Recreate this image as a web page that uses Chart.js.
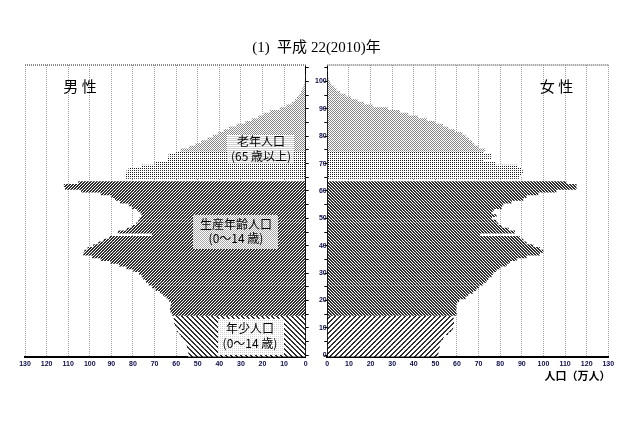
<!DOCTYPE html>
<html>
<head>
<meta charset="utf-8">
<script src="https://cdn.jsdelivr.net/npm/chart.js@4.4.1/dist/chart.umd.min.js"></script>
<style>
  html, body { margin: 0; padding: 0; background: #fff; }
  #wrap { position: relative; width: 640px; height: 426px; }
  #wrap canvas { position: absolute; left: 0; top: 0; }
</style>
</head>
<body>
<div id="wrap">
  <canvas id="maleChart" width="640" height="426"></canvas>
  <canvas id="femaleChart" width="640" height="426"></canvas>
</div>
<script>
// age in years (single-year bars)
const ages = [
  0, 1, 2, 3, 4, 5, 6, 7, 8, 9,
  10, 11, 12, 13, 14, 15, 16, 17, 18, 19,
  20, 21, 22, 23, 24, 25, 26, 27, 28, 29,
  30, 31, 32, 33, 34, 35, 36, 37, 38, 39,
  40, 41, 42, 43, 44, 45, 46, 47, 48, 49,
  50, 51, 52, 53, 54, 55, 56, 57, 58, 59,
  60, 61, 62, 63, 64, 65, 66, 67, 68, 69,
  70, 71, 72, 73, 74, 75, 76, 77, 78, 79,
  80, 81, 82, 83, 84, 85, 86, 87, 88, 89,
  90, 91, 92, 93, 94, 95, 96, 97, 98, 99,
  100, 101, 102, 103, 104, 105
];

// population, 10 thousand persons (万人)
const malePop = [
  54.5, 54.3, 54.6, 55.0, 55.2, 56.3, 56.8, 57.8, 58.4, 59.6,
  60.0, 60.6, 61.0, 61.2, 61.0, 62.0, 62.6, 62.9, 62.6, 62.4,
  63.2, 64.4, 66.0, 67.5, 69.5, 71.2, 72.8, 74.0, 75.2, 76.0,
  77.2, 79.8, 83.0, 86.5, 90.5, 95.0, 99.0, 103.0, 102.5, 101.0,
  98.4, 96.0, 93.7, 91.0, 71.3, 87.0, 83.0, 80.6, 78.5, 77.5,
  77.0, 76.0, 76.5, 78.0, 80.5, 82.0, 86.0, 88.3, 90.0, 95.0,
  104.0, 111.5, 112.0, 105.3, 0, 83.7, 83.5, 83.0, 82.0, 76.0,
  70.0, 64.0, 64.0, 63.5, 60.0, 58.0, 54.0, 51.0, 48.5, 45.5,
  43.0, 40.5, 38.0, 35.5, 32.0, 28.0, 25.0, 22.0, 19.5, 16.5,
  12.0, 9.0, 6.5, 5.0, 4.0, 3.0, 2.2, 1.6, 1.1, 0.7,
  0.4, 0.2, 0.1, 0, 0, 0
];
const femalePop = [
  51.5, 51.4, 51.8, 52.0, 51.7, 52.6, 53.5, 54.0, 56.0, 57.5,
  58.2, 58.3, 58.6, 58.6, 58.3, 59.8, 59.5, 59.8, 59.5, 60.1,
  61.0, 64.0, 65.2, 67.5, 69.0, 70.3, 72.1, 73.7, 74.5, 76.0,
  76.8, 78.3, 80.0, 83.0, 84.5, 87.6, 92.2, 98.4, 99.9, 98.4,
  95.3, 92.2, 90.7, 89.1, 70.6, 86.8, 84.0, 80.7, 79.1, 78.3,
  76.2, 78.3, 76.0, 77.0, 80.7, 81.4, 85.3, 90.7, 92.2, 97.6,
  106.0, 115.3, 115.3, 110.7, 0, 89.0, 90.0, 90.5, 90.0, 88.0,
  78.0, 72.0, 76.0, 76.0, 72.0, 73.0, 70.0, 68.0, 67.0, 65.5,
  64.0, 62.5, 59.0, 56.0, 53.5, 50.0, 46.0, 42.0, 37.5, 33.5,
  28.0, 21.0, 17.0, 14.0, 11.0, 8.5, 6.0, 4.2, 3.0, 1.8,
  1.2, 0.6, 0.3, 0.2, 0.1, 0
];

// first age of each shaded group: 0-14, 15-64, 65-74, 75+
const groupStart = [0, 15, 65, 75];

const titleText = '(1)  平成 22(2010)年';
const sideNames = ['男 性', '女 性'];
const unitText = '人口（万人）';
const notes = [
  ['老年人口', '(65 歳以上)'],
  ['生産年齢人口', '(0～14 歳)'],
  ['年少人口', '(0～14 歳)']
];

const jp = '"Noto Sans CJK JP", "Noto Sans", sans-serif';
const tickFont = { family: '"Liberation Sans", Arial, sans-serif', size: 7, weight: 'bold' };
const tickColor = '#0c0c4a';

// little bitmap tiles used as fills
function tile(size, color, on) {
  const c = document.createElement('canvas');
  c.width = size; c.height = size;
  const g = c.getContext('2d');
  g.fillStyle = '#fff';
  g.fillRect(0, 0, size, size);
  g.fillStyle = color;
  for (let y = 0; y < size; y++) {
    for (let x = 0; x < size; x++) {
      if (on(x, y)) g.fillRect(x, y, 1, 1);
    }
  }
  return g.createPattern(c, 'repeat');
}

const slashDense = tile(3, '#2e2e2e', (x, y) => (x + y) % 3 !== 0);
const backDense = tile(3, '#2e2e2e', (x, y) => (x - y + 3) % 3 !== 0);
const slashWide = tile(5, '#2e2e2e', (x, y) => (x + y) % 5 < 2);
const backWide = tile(5, '#2e2e2e', (x, y) => (x - y + 5) % 5 < 2);
const dots = tile(2, '#1a1a1a', (x, y) => x === 0 && y === 0);
const checker = tile(2, '#858585', (x, y) => (x + y) % 2 === 0);
const hLines = tile(2, '#cfcfcf', (x, y) => y === 0);
const grayStipple = tile(2, '#a8a8a8', (x, y) => (x + y) % 2 === 0);
const lightStipple = tile(2, '#d4d4d4', (x, y) => x === 0 && y === 0);

const maleFills = [backWide, slashDense, dots, checker];
const femaleFills = [slashWide, backDense, dots, checker];

function groupOf(age) {
  let g = 0;
  groupStart.forEach((s, i) => { if (age >= s) g = i; });
  return g;
}

// note boxes on the male side
const noteBoxes = [
  { x: 227, y: 135, w: 67, h: 28, bg: hLines, cx: 261, ty: [141.5, 156] },
  { x: 193, y: 215, w: 85, h: 34, bg: grayStipple, cx: 236, ty: [224, 238.5] },
  { x: 218, y: 319, w: 66, h: 36, bg: lightStipple, cx: 250, ty: [328, 343.5] }
];

function topBorder(chart) {
  const { ctx, chartArea: a } = chart;
  ctx.save();
  ctx.strokeStyle = '#8a8a8a';
  ctx.lineWidth = 2;
  ctx.setLineDash([1, 1]);
  ctx.beginPath();
  ctx.moveTo(a.left, a.top);
  ctx.lineTo(a.right, a.top);
  ctx.stroke();
  ctx.restore();
}

const maleDecor = {
  id: 'maleDecor',
  afterDatasetsDraw(chart) {
    const ctx = chart.ctx;
    topBorder(chart);
    ctx.save();
    noteBoxes.forEach((b, i) => {
      ctx.fillStyle = b.bg;
      ctx.fillRect(b.x, b.y, b.w, b.h);
      ctx.fillStyle = '#000';
      ctx.font = '12px ' + jp;
      ctx.textAlign = 'center';
      ctx.textBaseline = 'middle';
      ctx.fillText(notes[i][0], b.cx, b.ty[0]);
      ctx.fillText(notes[i][1], b.cx, b.ty[1]);
    });
    ctx.font = '15px ' + jp;
    ctx.fillText(sideNames[0], 80, 86.5);
    ctx.font = '15px "Liberation Serif", "Noto Sans CJK JP", serif';
    ctx.fillText(titleText, 316.5, 48);
    ctx.restore();
  }
};

const femaleDecor = {
  id: 'femaleDecor',
  afterDatasetsDraw(chart) {
    const ctx = chart.ctx;
    topBorder(chart);
    ctx.save();
    ctx.fillStyle = '#000';
    ctx.textAlign = 'center';
    ctx.textBaseline = 'middle';
    ctx.font = '15px ' + jp;
    ctx.fillText(sideNames[1], 556.5, 86.5);
    ctx.font = 'bold 11px ' + jp;
    ctx.fillText(unitText, 577.5, 376);
    ctx.restore();
  }
};

function pyramid(canvasId, values, isMale) {
  const fills = isMale ? maleFills : femaleFills;
  return new Chart(document.getElementById(canvasId), {
    type: 'bar',
    data: {
      datasets: [{
        label: isMale ? '男性' : '女性',
        data: values.map((v, i) => ({ x: v, y: ages[i] })),
        backgroundColor: c => fills[groupOf(ages[c.dataIndex] || 0)],
        borderWidth: 0,
        barPercentage: 1.08,
        categoryPercentage: 1
      }]
    },
    options: {
      indexAxis: 'y',
      responsive: false,
      animation: false,
      devicePixelRatio: 1,
      events: [],
      layout: {
        padding: isMale
          ? { left: 25, right: 313.3, top: 65, bottom: 49.3 }
          : { left: 324.3, right: 31.7, top: 65, bottom: 49.3 }
      },
      plugins: { legend: { display: false }, tooltip: { enabled: false } },
      scales: {
        x: {
          type: 'linear',
          min: 0,
          max: 130,
          reverse: isMale,
          afterFit: s => { s.height = 20; },
          ticks: { stepSize: 10, font: tickFont, color: tickColor, padding: 3, maxRotation: 0, autoSkip: false },
          grid: {
            drawTicks: false,
            lineWidth: 1,
            color: c => (c.tick && c.tick.value === 0) ? 'rgba(0,0,0,0)' : '#a2a2a2'
          },
          border: { display: true, color: '#000', width: 2, dash: [1, 1] }
        },
        y: {
          type: 'linear',
          position: isMale ? 'right' : 'left',
          min: -0.5,
          max: 106,
          offset: false,
          afterFit: s => { s.width = isMale ? 21 : 3; },
          ticks: {
            display: isMale,
            stepSize: 5,
            includeBounds: false,
            font: tickFont,
            color: tickColor,
            padding: 1,
            crossAlign: 'far',
            callback: v => (v % 10 === 0 ? String(v) : '')
          },
          grid: {
            offset: false,
            drawOnChartArea: false,
            drawTicks: true,
            tickLength: 3,
            tickColor: '#000',
            tickWidth: 1
          },
          border: { display: true, color: '#000', width: 1 }
        }
      }
    },
    plugins: [isMale ? maleDecor : femaleDecor]
  });
}

pyramid('maleChart', malePop, true);
pyramid('femaleChart', femalePop, false);
</script>
</body>
</html>
